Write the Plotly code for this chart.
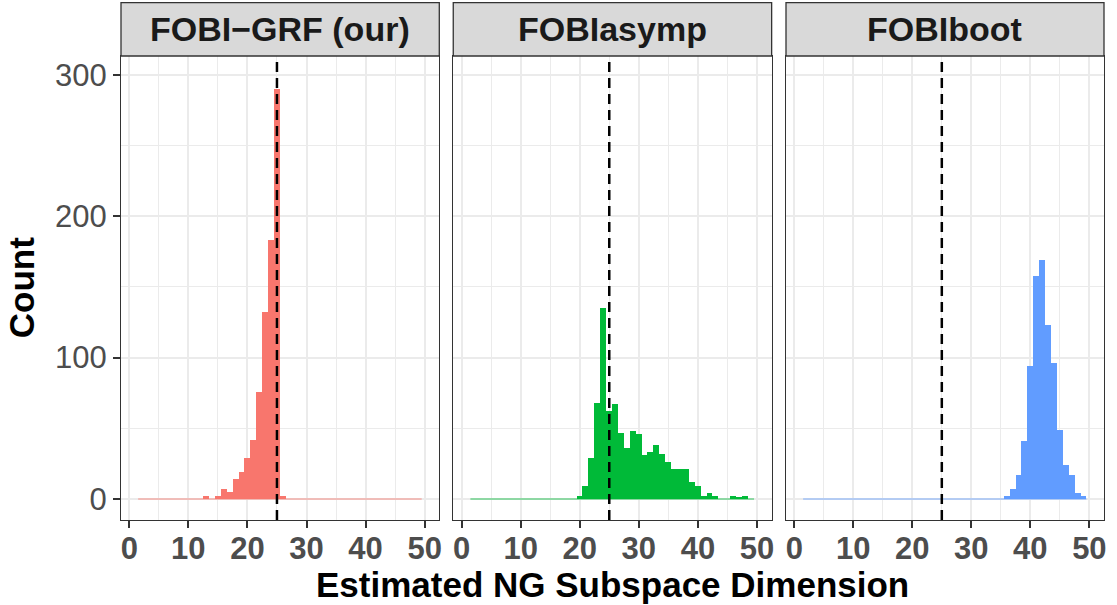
import plotly.graph_objects as go

# ---------------- data ----------------
methods = ["FOBI\u2212GRF (our)", "FOBIasymp", "FOBIboot"]
colors = ["#F8766D", "#00BA38", "#619CFF"]
dims = list(range(2, 50))  # estimated dimension bins (width 1)

grf_counts = [0] * 11 + [2, 0, 2, 7, 5, 14, 19, 29, 42, 76, 132, 183, 290, 2] + [0] * 23
asymp_counts = [0] * 18 + [2, 9, 29, 68, 135, 62, 67, 47, 36, 48, 46, 31, 33, 38, 32,
                           26, 21, 21, 21, 12, 9, 2, 4, 2, 0, 0, 2, 1, 2, 0]
boot_counts = [0] * 34 + [2, 7, 17, 41, 94, 158, 169, 123, 96, 49, 24, 17, 4, 2]
all_counts = [grf_counts, asymp_counts, boot_counts]

true_dim = 25
x_ticks = [0, 10, 20, 30, 40, 50]
y_ticks = [0, 100, 200, 300]

x_title = "Estimated NG Subspace Dimension"
y_title = "Count"

# ---------------- layout geometry ----------------
W, H = 1117, 605
ML, MR, MT, MB = 121, 10, 56, 85
domains = [[0.0, 0.3238], [0.3380, 0.6619], [0.6765, 1.0]]
x_range = [-1.4, 52.48]
y_range = [-14.86, 313.4]
FONT = "Liberation Sans, Arial, sans-serif"
BORDER = "#333333"
GRID = "#EBEBEB"

fig = go.Figure()

for i, (name, col, counts) in enumerate(zip(methods, colors, all_counts)):
    ax = "" if i == 0 else str(i + 1)
    fig.add_trace(go.Bar(
        x=dims, y=counts, width=1, marker=dict(color=col, line=dict(width=0)),
        xaxis="x" + ax, yaxis="y" + ax, showlegend=False, hoverinfo="x+y"))
    # zero-height bins render as a hairline in the original
    fig.add_trace(go.Scatter(
        x=[dims[0] - 0.5, dims[-1] + 0.5], y=[0, 0], mode="lines",
        line=dict(color=col, width=0.8), xaxis="x" + ax, yaxis="y" + ax,
        showlegend=False, hoverinfo="skip"))

    xa = dict(domain=domains[i], range=x_range, tickmode="array", tickvals=x_ticks,
              ticktext=[str(v) for v in x_ticks],
              showgrid=True, gridcolor=GRID, gridwidth=1.8, zeroline=False,
              minor=dict(tick0=0, dtick=5, showgrid=True, gridcolor=GRID, gridwidth=1.0, ticks=""),
              showline=True, mirror=True, linecolor=BORDER, linewidth=1.3,
              ticks="outside", ticklen=7, tickwidth=1.5, tickcolor=BORDER,
              ticklabelstandoff=-6,
              tickfont=dict(family=FONT, size=31, color="#4D4D4D", weight="bold"),
              anchor="y" + ax, fixedrange=True)
    ya = dict(domain=[0, 1], range=y_range, tickmode="array", tickvals=y_ticks,
              ticktext=[str(v) for v in y_ticks],
              showgrid=True, gridcolor=GRID, gridwidth=1.8, zeroline=False,
              minor=dict(tick0=0, dtick=50, showgrid=True, gridcolor=GRID, gridwidth=1.0, ticks=""),
              showline=True, mirror=True, linecolor=BORDER, linewidth=1.3,
              ticks="outside" if i == 0 else "", ticklen=7, tickwidth=1.5, tickcolor=BORDER,
              showticklabels=(i == 0),
              tickfont=dict(family=FONT, size=31, color="#4D4D4D"),
              anchor="x" + ax, fixedrange=True)
    fig.update_layout(**{"xaxis" + ax: xa, "yaxis" + ax: ya})

    # dashed reference line at the true dimension
    fig.add_shape(type="line", xref="x" + ax, yref="y" + ax + " domain",
                  x0=true_dim, x1=true_dim, y0=0, y1=1,
                  line=dict(color="black", width=2.5, dash="10px,6px"), layer="above")
    # facet strip
    fig.add_shape(type="rect", xref="paper", yref="paper",
                  x0=domains[i][0], x1=domains[i][1], y0=1.0, y1=1.115,
                  fillcolor="#D9D9D9", line=dict(color=BORDER, width=1.3), layer="above")
    fig.add_annotation(xref="paper", yref="paper", x=(domains[i][0] + domains[i][1]) / 2,
                       y=1.058, text="<b>%s</b>" % name, showarrow=False,
                       xanchor="center", yanchor="middle",
                       font=dict(family=FONT, size=34, color="#1A1A1A"))

fig.add_annotation(xref="paper", yref="paper", x=0.5, y=-0.138, text="<b>%s</b>" % x_title,
                   showarrow=False, xanchor="center", yanchor="middle",
                   font=dict(family=FONT, size=35, color="black"))
fig.add_annotation(xref="paper", yref="paper", x=-0.101, y=0.501, text="<b>%s</b>" % y_title,
                   showarrow=False, xanchor="center", yanchor="middle", textangle=-90,
                   font=dict(family=FONT, size=35, color="black"))

fig.update_layout(width=W, height=H, margin=dict(l=ML, r=MR, t=MT, b=MB),
                  paper_bgcolor="white", plot_bgcolor="white",
                  barmode="overlay", bargap=0, showlegend=False)

fig.write_html("out.html", config={"displayModeBar": False},
               post_script="document.body.style.margin='0';document.body.style.overflow='hidden';")
